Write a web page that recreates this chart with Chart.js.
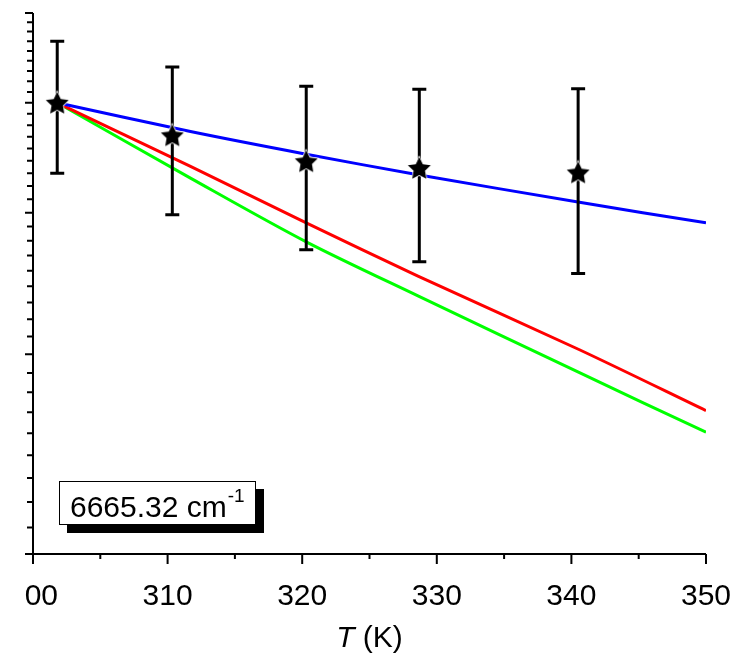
<!DOCTYPE html>
<html>
<head>
<meta charset="utf-8">
<script src="https://cdn.jsdelivr.net/npm/chart.js@4.4.0/dist/chart.umd.min.js"></script>
<style>
  html, body { margin: 0; padding: 0; background: #fff; }
</style>
</head>
<body>
<canvas id="chart" width="748" height="657"></canvas>
<script>
// measured points with error bars
const tempMeas = [301.8, 310.35, 320.3, 328.7, 340.5];
const valMeas = [0.500, 0.468, 0.444, 0.438, 0.434];
const errMeas = [0.0666, 0.0696, 0.073, 0.076, 0.0805];

// model curves
const tempFit = [301.8, 311.7, 320.3, 328.6, 340.6, 350];
const fitBlue = [0.500, 0.4716, 0.4504, 0.4321, 0.4085, 0.3918];
const fitRed = [0.500, 0.4394, 0.3918, 0.3517, 0.3028, 0.2676];
const fitGreen = [0.500, 0.4291, 0.3770, 0.3378, 0.2890, 0.2561];

// axis ticks
const xMajor = [300, 310, 320, 330, 340, 350];
const xMinor = [305, 315, 325, 335, 345];
const yMajor = [0.2, 0.3, 0.4, 0.5, 0.6];
const yMinorCount = 8;

const boxText = "6665.32 cm";
const boxSup = "-1";

const FONT = "'Liberation Sans', Arial, sans-serif";

function pairs(xs, ys) {
  var out = [];
  for (var i = 0; i < xs.length; i++) out.push({x: xs[i], y: ys[i]});
  return out;
}

// filled five-point star with a thin white rim
function makeStar(r) {
  var c = document.createElement("canvas");
  var s = Math.ceil(r * 2 + 4);
  c.width = s; c.height = s;
  var g = c.getContext("2d");
  var cx = s / 2, cy = s / 2 + 1;
  g.beginPath();
  for (var i = 0; i < 10; i++) {
    var rad = (i % 2 == 0) ? r : r * 0.5;
    var a = -Math.PI / 2 + i * Math.PI / 5;
    var px = cx + rad * Math.cos(a), py = cy + rad * Math.sin(a);
    if (i == 0) g.moveTo(px, py); else g.lineTo(px, py);
  }
  g.closePath();
  g.lineWidth = 1.5;
  g.strokeStyle = "#fff";
  g.stroke();
  g.fillStyle = "#000";
  g.fill();
  return c;
}

const errorBars = {
  id: "errorBars",
  beforeDatasetDraw(chart, args) {
    if (args.index != 0) return;
    var x = chart.scales.x, y = chart.scales.y, ctx = chart.ctx;
    ctx.save();
    ctx.strokeStyle = "#000";
    ctx.lineWidth = 3;
    for (var i = 0; i < tempMeas.length; i++) {
      var px = x.getPixelForValue(tempMeas[i]);
      var top = y.getPixelForValue(valMeas[i] + errMeas[i]);
      var bot = y.getPixelForValue(valMeas[i] - errMeas[i]);
      ctx.beginPath();
      ctx.moveTo(px, top); ctx.lineTo(px, bot);
      ctx.moveTo(px - 7, top); ctx.lineTo(px + 7, top);
      ctx.moveTo(px - 7, bot); ctx.lineTo(px + 7, bot);
      ctx.stroke();
    }
    ctx.restore();
  }
};

const axesFrame = {
  id: "axesFrame",
  afterDraw(chart) {
    var a = chart.chartArea, ctx = chart.ctx;
    var x = chart.scales.x, y = chart.scales.y;
    ctx.save();
    ctx.strokeStyle = "#000";
    ctx.lineWidth = 2;
    ctx.beginPath();
    ctx.moveTo(a.left, a.top); ctx.lineTo(a.left, a.bottom);
    ctx.moveTo(a.left, a.bottom); ctx.lineTo(a.right, a.bottom);
    xMajor.forEach(function(v) {
      var p = x.getPixelForValue(v);
      ctx.moveTo(p, a.bottom); ctx.lineTo(p, a.bottom + 10);
    });
    xMinor.forEach(function(v) {
      var p = x.getPixelForValue(v);
      ctx.moveTo(p, a.bottom); ctx.lineTo(p, a.bottom + 5);
    });
    for (var i = 0; i < yMajor.length; i++) {
      var p = y.getPixelForValue(yMajor[i]);
      ctx.moveTo(a.left, p); ctx.lineTo(a.left - 8, p);
      if (i == yMajor.length - 1) break;
      var step = (yMajor[i + 1] - yMajor[i]) / (yMinorCount + 1);
      for (var k = 1; k <= yMinorCount; k++) {
        var q = y.getPixelForValue(yMajor[i] + k * step);
        ctx.moveTo(a.left, q); ctx.lineTo(a.left - 6, q);
      }
    }
    ctx.stroke();

    // axis title: italic T, upright (K)
    var cx = (a.left + a.right) / 2, by = 647;
    ctx.fillStyle = "#000";
    ctx.textBaseline = "alphabetic";
    ctx.font = "italic 30px " + FONT;
    var w1 = ctx.measureText("T").width;
    ctx.font = "30px " + FONT;
    var w2 = ctx.measureText(" (K)").width;
    var sx = cx - (w1 + w2) / 2;
    ctx.font = "italic 30px " + FONT;
    ctx.fillText("T", sx, by);
    ctx.font = "30px " + FONT;
    ctx.fillText(" (K)", sx + w1, by);

    // wavenumber label box with drop shadow
    var bx = a.left + 26, bw = 197, bh = 44, byTop = a.bottom - 73;
    ctx.fillStyle = "#000";
    ctx.fillRect(bx + 8, byTop + 8, bw, bh);
    ctx.fillStyle = "#fff";
    ctx.fillRect(bx, byTop, bw, bh);
    ctx.lineWidth = 1;
    ctx.strokeRect(bx + 0.5, byTop + 0.5, bw - 1, bh - 1);
    ctx.fillStyle = "#000";
    ctx.font = "30px " + FONT;
    ctx.fillText(boxText, bx + 11, byTop + 36);
    var tw = ctx.measureText(boxText).width;
    ctx.font = "19px " + FONT;
    ctx.fillText(boxSup, bx + 12 + tw, byTop + 21);

    // left margin is blank
    ctx.fillStyle = "#fff";
    ctx.fillRect(0, 0, 24, chart.height);
    ctx.restore();
  }
};

var ctx = document.getElementById("chart").getContext("2d");
var starImg = makeStar(12);

var myChart = new Chart(ctx, {
  type: "line",
  data: {
    datasets: [
      {
        label: "measured",
        data: pairs(tempMeas, valMeas),
        showLine: false,
        pointStyle: starImg,
        pointRadius: 12,
        borderColor: "#000",
        backgroundColor: "#000"
      },
      {
        label: "fit blue",
        data: pairs(tempFit, fitBlue),
        borderColor: "#0000ff",
        borderWidth: 3,
        pointRadius: 0,
        tension: 0.3
      },
      {
        label: "fit red",
        data: pairs(tempFit, fitRed),
        borderColor: "#ff0000",
        borderWidth: 3,
        pointRadius: 0,
        tension: 0.3
      },
      {
        label: "fit green",
        data: pairs(tempFit, fitGreen),
        borderColor: "#00ff00",
        borderWidth: 3,
        pointRadius: 0,
        tension: 0.3
      }
    ]
  },
  options: {
    responsive: false,
    animation: false,
    devicePixelRatio: 1,
    layout: { padding: { top: 11, right: 42, left: 0, bottom: 0 } },
    plugins: { legend: { display: false }, tooltip: { enabled: false } },
    scales: {
      x: {
        type: "linear",
        min: 300,
        max: 350,
        grid: { display: false, drawTicks: true, tickLength: 10 },
        border: { display: false },
        ticks: {
          stepSize: 10,
          padding: 15,
          color: "#000",
          maxRotation: 0,
          autoSkip: false,
          font: { family: FONT, size: 30 }
        },
        afterFit: function(s) {
          s.height = 103;
          s.paddingLeft = 0;
          s.paddingRight = 0;
        }
      },
      y: {
        type: "logarithmic",
        min: 0.2,
        max: 0.6,
        grid: { display: false, drawTicks: false },
        border: { display: false },
        ticks: { display: false },
        afterFit: function(s) { s.width = 33; }
      }
    }
  },
  plugins: [errorBars, axesFrame]
});
</script>
</body>
</html>
